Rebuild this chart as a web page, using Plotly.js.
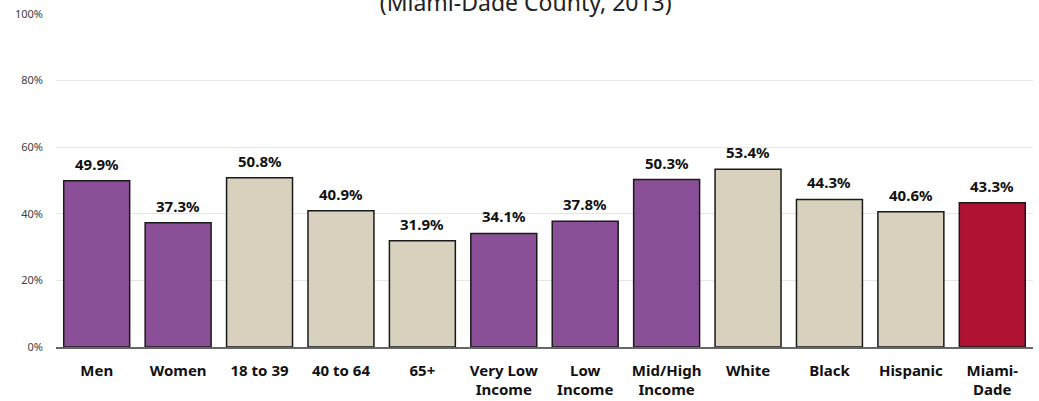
<!DOCTYPE html>
<html>
<head>
<meta charset="utf-8">
<script src="https://cdn.plot.ly/plotly-3.0.1.min.js"></script>
<style>html,body{margin:0;padding:0;background:#fff;}#chart{width:1039px;height:401px;}</style>
</head>
<body>
<div id="chart"></div>
<script>
var categories = ['Men','Women','18 to 39','40 to 64','65+','Very Low<br>Income','Low<br>Income','Mid/High<br>Income','White','Black','Hispanic','Miami-<br>Dade'];
var values = [49.9, 37.3, 50.8, 40.9, 31.9, 34.1, 37.8, 50.3, 53.4, 44.3, 40.6, 43.3];
var groups = ['gender','gender','age','age','age','income','income','income','race','race','race','total'];
var yTickVals = [0, 20, 40, 60, 80, 100];
var yTickText = ['0%','20%','40%','60%','80%','100%'];

var groupColor = {gender:'#8B4F97', age:'#D7D1BD', income:'#8B4F97', race:'#D7D1BD', total:'#B01233'};
var FONT = 'Noto Sans, Open Sans, sans-serif';

var trace = {
  type: 'bar',
  x: categories,
  y: values,
  marker: {color: groups.map(function(g){return groupColor[g];}), line: {color:'#1a1a1a', width:1.5}},
  hoverinfo: 'none'
};

var annotations = categories.map(function(c, i){
  return {
    x: c, y: values[i], xref:'x', yref:'y',
    text: values[i].toFixed(1) + '%',
    showarrow: false, yanchor:'bottom', yshift: 5,
    font: {family:FONT, size:15, color:'#111', weight:'bold'}
  };
});

var layout = {
  width: 1039, height: 401,
  margin: {l:56, r:6, t:14, b:54},
  paper_bgcolor:'#fff', plot_bgcolor:'#fff',
  bargap: 0.19,
  showlegend: false,
  title: {text:'(Miami-Dade County, 2013)', font:{family:FONT, size:23, color:'#222'}, x:0.506, xanchor:'center', y:0.992, yanchor:'middle'},
  annotations: annotations,
  xaxis: {
    tickfont: {family:FONT, size:15, color:'#111', weight:'bold'},
    showline: true, linecolor:'#666', linewidth:1.5,
    ticks:'', showgrid:false, ticklabelstandoff: 9, fixedrange:true
  },
  yaxis: {
    range:[0,100], tickvals:yTickVals, ticktext:yTickText,
    tickfont:{family:FONT, size:11, color:'#404040'},
    showgrid:true, gridcolor:'#e6e6e6', gridwidth:1,
    zeroline:false, showline:false, ticks:'', ticklabelstandoff: 12, fixedrange:true
  }
};

Plotly.newPlot('chart', [trace], layout, {displayModeBar:false, staticPlot:true});
</script>
</body>
</html>
